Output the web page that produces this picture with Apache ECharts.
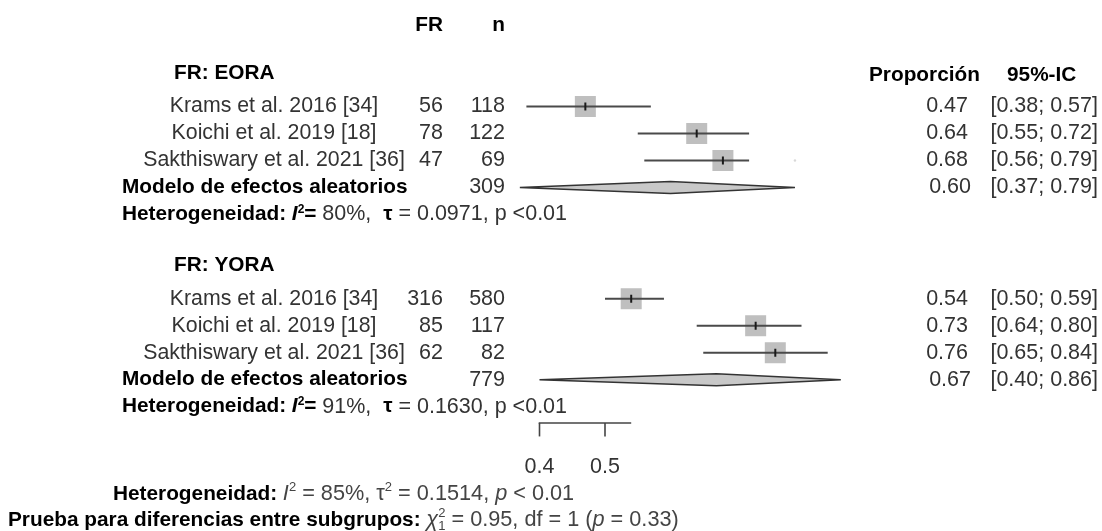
<!DOCTYPE html>
<html><head><meta charset="utf-8">
<script src="https://cdn.jsdelivr.net/npm/echarts@6/dist/echarts.min.js"></script>
<style>html,body{margin:0;padding:0;background:#fff}#c{width:1102px;height:531px}</style>
</head><body><div id="c"></div>
<script>
// ---------------- data ----------------
const studies = ['Krams et al. 2016 [34]', 'Koichi et al. 2019 [18]', 'Sakthiswary et al. 2021 [36]'];
const groupNames = ['FR: EORA', 'FR: YORA'];
const eoraEvents = [56, 78, 47];
const eoraTotal = [118, 122, 69];
const eoraProp = [0.47, 0.64, 0.68];
const eoraLow = [0.38, 0.55, 0.56];
const eoraHigh = [0.57, 0.72, 0.79];
const eoraWhiskerHigh = [0.57, 0.72, 0.72];   // right whisker end as drawn in the figure
const yoraEvents = [316, 85, 62];
const yoraTotal = [580, 117, 82];
const yoraProp = [0.54, 0.73, 0.76];
const yoraLow = [0.50, 0.64, 0.65];
const yoraHigh = [0.59, 0.80, 0.84];
const yoraWhiskerHigh = [0.59, 0.80, 0.84];
const modelTotal = [309, 779];
const modelProp = [0.60, 0.67];
const modelLow = [0.37, 0.40];
const modelHigh = [0.79, 0.86];
const hetI2 = ['80%', '91%'];
const hetTau = ['0.0971', '0.1630'];
const hetP = ['<0.01', '<0.01'];
const axisTicks = [0.4, 0.5];
const axisEnd = 0.54;
const overallHet = ['85%', '0.1514', '< 0.01'];      // I2, tau2, p
const subgroupTest = ['0.95', '1', '0.33'];          // chi2, df, p

// ---------------- layout & style ----------------
const L = {
  rowPx: 27, row0Px: 106.5,
  groupStartRow: [0, 7.12], titleOffset: -1.24,
  headerRow: -3.0, rightHeaderRow: -1.17,
  axisRow: 11.72, tickLabelRow: 13.35, footRows: [14.35, 15.33],
  colName: 274, colEvents: 443, colTotal: 505, colProp: 968, colPropModel: 971, colCI: 1098,
  colBold: 122, colTitle: 174, colPropHdr: 869, colCIHdr: 1007, colFoot1: 113, colFoot2: 8,
  boxSize: 21, diamondHalf: 6, tickLen: 13.5, markH: 8
};
const FAM = '"Liberation Sans", Arial, Helvetica, sans-serif';
const font = (w, s, it) => (it ? 'italic ' : '') + w + ' ' + s + 'px ' + FAM;
const fReg = font('normal', 21.5), fName = font('normal', 21.3), fBold = font('bold', 20.8),
      fBoldIt = font('bold', 20.8, true), fSupB = font('bold', 12),
      fFoot = font('normal', 21.7), fFootIt = font('normal', 21.7, true), fFootSup = font('normal', 13),
      fFootBold = font('bold', 20.8);
const C = { bold: '#000', text: '#333', foot: '#444', box: '#bfbfbf', line: '#4a4a4a', mark: '#1a1a1a',
            diaFill: '#c8c8c8', diaLine: '#333', axis: '#444', faint: '#d8d8d8' };

const groups = [
  { events: eoraEvents, total: eoraTotal, prop: eoraProp, low: eoraLow, high: eoraHigh, whisk: eoraWhiskerHigh },
  { events: yoraEvents, total: yoraTotal, prop: yoraProp, low: yoraLow, high: yoraHigh, whisk: yoraWhiskerHigh }
];

// ---------------- text helpers ----------------
const mctx = document.createElement('canvas').getContext('2d');
function tw(t, f) { mctx.font = f; return mctx.measureText(t).width; }
const R = (text, f, fill, extra) => Object.assign({ text: String(text), font: f, fill: fill }, extra || {});
function runEls(runs, x0, y, align) {
  let total = 0;
  runs.forEach(r => { if (!r.stay) total += tw(r.text, r.font); });
  let x = align === 'right' ? x0 - total : align === 'center' ? x0 - total / 2 : x0;
  const els = [];
  runs.forEach(r => {
    els.push({ type: 'text', x: x, y: y + (r.dy || 0),
      style: { text: r.text, font: r.font, fill: r.fill, align: 'left', verticalAlign: 'middle' } });
    if (!r.stay) x += tw(r.text, r.font);
  });
  return els;
}

const textItems = [];
function addText(row, x, align, runs, xVal) { textItems.push({ row, x, align, runs, xVal }); }

// headers
addText(L.headerRow, L.colEvents, 'right', [R('FR', fBold, C.bold)]);
addText(L.headerRow, L.colTotal, 'right', [R('n', fBold, C.bold)]);
addText(L.rightHeaderRow, L.colPropHdr, 'left', [R('Proporción', fBold, C.bold)]);
addText(L.rightHeaderRow, L.colCIHdr, 'left', [R('95%-IC', fBold, C.bold)]);

const studyData = [], diamondData = [];
groups.forEach((g, gi) => {
  const s = L.groupStartRow[gi];
  addText(s + L.titleOffset, L.colTitle, 'left', [R(groupNames[gi], fBold, C.bold)]);
  studies.forEach((name, i) => {
    const row = s + i;
    addText(row, L.colName, 'center', [R(name, fName, C.text)]);
    addText(row, L.colEvents, 'right', [R(g.events[i], fReg, C.text)]);
    addText(row, L.colTotal, 'right', [R(g.total[i], fReg, C.text)]);
    addText(row, L.colProp, 'right', [R(g.prop[i].toFixed(2), fReg, C.text)]);
    addText(row, L.colCI, 'right', [R('[' + g.low[i].toFixed(2) + '; ' + g.high[i].toFixed(2) + ']', fReg, C.text)]);
    studyData.push([g.prop[i], row, g.low[i], g.whisk[i], g.high[i]]);
  });
  const mRow = s + 3;
  addText(mRow, L.colBold, 'left', [R('Modelo de efectos aleatorios', fBold, C.bold)]);
  addText(mRow, L.colTotal, 'right', [R(modelTotal[gi], fReg, C.text)]);
  addText(mRow, L.colPropModel, 'right', [R(modelProp[gi].toFixed(2), fReg, C.text)]);
  addText(mRow, L.colCI, 'right', [R('[' + modelLow[gi].toFixed(2) + '; ' + modelHigh[gi].toFixed(2) + ']', fReg, C.text)]);
  diamondData.push([modelProp[gi], mRow, modelLow[gi], modelHigh[gi]]);
  addText(s + 4, L.colBold, 'left', [
    R('Heterogeneidad: ', fBold, C.bold),
    R('I', fBoldIt, C.bold),
    R('2', fSupB, C.bold, { dy: -5 }),
    R('= ', fBold, C.bold),
    R(hetI2[gi] + ',  ', fReg, C.text),
    R('τ', fBold, C.bold),
    R(' = ' + hetTau[gi] + ', p ' + hetP[gi], fReg, C.text)
  ]);
});

// axis tick labels (x from data through the x axis)
axisTicks.forEach(t => addText(L.tickLabelRow, 0, 'center', [R(t.toFixed(1), fReg, C.text)], t));

// footer
addText(L.footRows[0], L.colFoot1, 'left', [
  R('Heterogeneidad: ', fFootBold, C.bold),
  R('I', fFootIt, C.foot),
  R('2', fFootSup, C.foot, { dy: -7 }),
  R(' = ' + overallHet[0] + ', ', fFoot, C.foot),
  R('τ', fFoot, C.foot),
  R('2', fFootSup, C.foot, { dy: -7 }),
  R(' = ' + overallHet[1] + ', ', fFoot, C.foot),
  R('p', fFootIt, C.foot),
  R(' ' + overallHet[2], fFoot, C.foot)
]);
addText(L.footRows[1], L.colFoot2, 'left', [
  R('Prueba para diferencias entre subgrupos: ', fFootBold, C.bold),
  R('χ', fFootIt, C.foot),
  R('2', fFootSup, C.foot, { dy: -7, stay: true }),
  R('1', fFootSup, C.foot, { dy: 6 }),
  R(' = ' + subgroupTest[0] + ', df = ' + subgroupTest[1] + ' (', fFoot, C.foot),
  R('p', fFootIt, C.foot),
  R(' = ' + subgroupTest[2] + ')', fFoot, C.foot)
]);

// ---------------- chart ----------------
const H = 531;
const yMin = -L.row0Px / L.rowPx;
const yMax = yMin + H / L.rowPx;

const chart = echarts.init(document.getElementById('c'), null, { renderer: 'canvas' });
chart.setOption({
  animation: false,
  backgroundColor: '#fff',
  grid: { left: 277.5, width: 655, top: 0, height: H },
  xAxis: { type: 'value', min: 0, max: 1, show: false },
  yAxis: { type: 'value', min: yMin, max: yMax, inverse: true, show: false },
  series: [
    { // study boxes & confidence intervals
      type: 'custom', clip: false, z: 3,
      data: studyData,
      renderItem: (params, api) => {
        const c = api.coord([api.value(0), api.value(1)]);
        const lo = api.coord([api.value(2), api.value(1)]);
        const hi = api.coord([api.value(3), api.value(1)]);
        const ci = api.coord([api.value(4), api.value(1)]);
        const b = L.boxSize;
        const ch = [
          { type: 'rect', shape: { x: c[0] - b / 2, y: c[1] - b / 2, width: b, height: b }, style: { fill: C.box } },
          { type: 'line', shape: { x1: lo[0], y1: lo[1], x2: hi[0], y2: hi[1] }, style: { stroke: C.line, lineWidth: 2 } },
          { type: 'rect', shape: { x: c[0] - 1, y: c[1] - L.markH / 2, width: 2, height: L.markH }, style: { fill: C.mark } }
        ];
        if (api.value(4) > api.value(3)) {
          ch.push({ type: 'circle', shape: { cx: ci[0], cy: ci[1], r: 1.2 }, style: { fill: C.faint } });
        }
        return { type: 'group', children: ch };
      }
    },
    { // random-effects diamonds
      type: 'custom', clip: false, z: 3,
      data: diamondData,
      renderItem: (params, api) => {
        const c = api.coord([api.value(0), api.value(1)]);
        const lo = api.coord([api.value(2), api.value(1)]);
        const hi = api.coord([api.value(3), api.value(1)]);
        const h = L.diamondHalf;
        return { type: 'polygon', shape: { points: [[lo[0], c[1]], [c[0], c[1] - h], [hi[0], c[1]], [c[0], c[1] + h]] },
                 style: { fill: C.diaFill, stroke: C.diaLine, lineWidth: 1.5 } };
      }
    },
    { // bottom axis: line and ticks
      type: 'custom', clip: false, z: 3,
      data: axisTicks.map(t => [t, L.axisRow]),
      renderItem: (params, api) => {
        const p = api.coord([api.value(0), api.value(1)]);
        const ch = [{ type: 'line', shape: { x1: p[0], y1: p[1], x2: p[0], y2: p[1] + L.tickLen }, style: { stroke: C.axis, lineWidth: 1.6 } }];
        if (params.dataIndex === 0) {
          const e = api.coord([axisEnd, api.value(1)]);
          ch.push({ type: 'line', shape: { x1: p[0] - 0.8, y1: p[1], x2: e[0], y2: e[1] }, style: { stroke: C.axis, lineWidth: 1.6 } });
        }
        return { type: 'group', children: ch };
      }
    },
    { // all texts
      type: 'custom', clip: false, z: 4,
      data: textItems.map(t => [t.xVal != null ? t.xVal : 0, t.row]),
      renderItem: (params, api) => {
        const t = textItems[params.dataIndex];
        const p = api.coord([api.value(0), api.value(1)]);
        const x = t.xVal != null ? p[0] : t.x;
        return { type: 'group', children: runEls(t.runs, x, p[1], t.align) };
      }
    }
  ]
});
</script>
</body></html>
